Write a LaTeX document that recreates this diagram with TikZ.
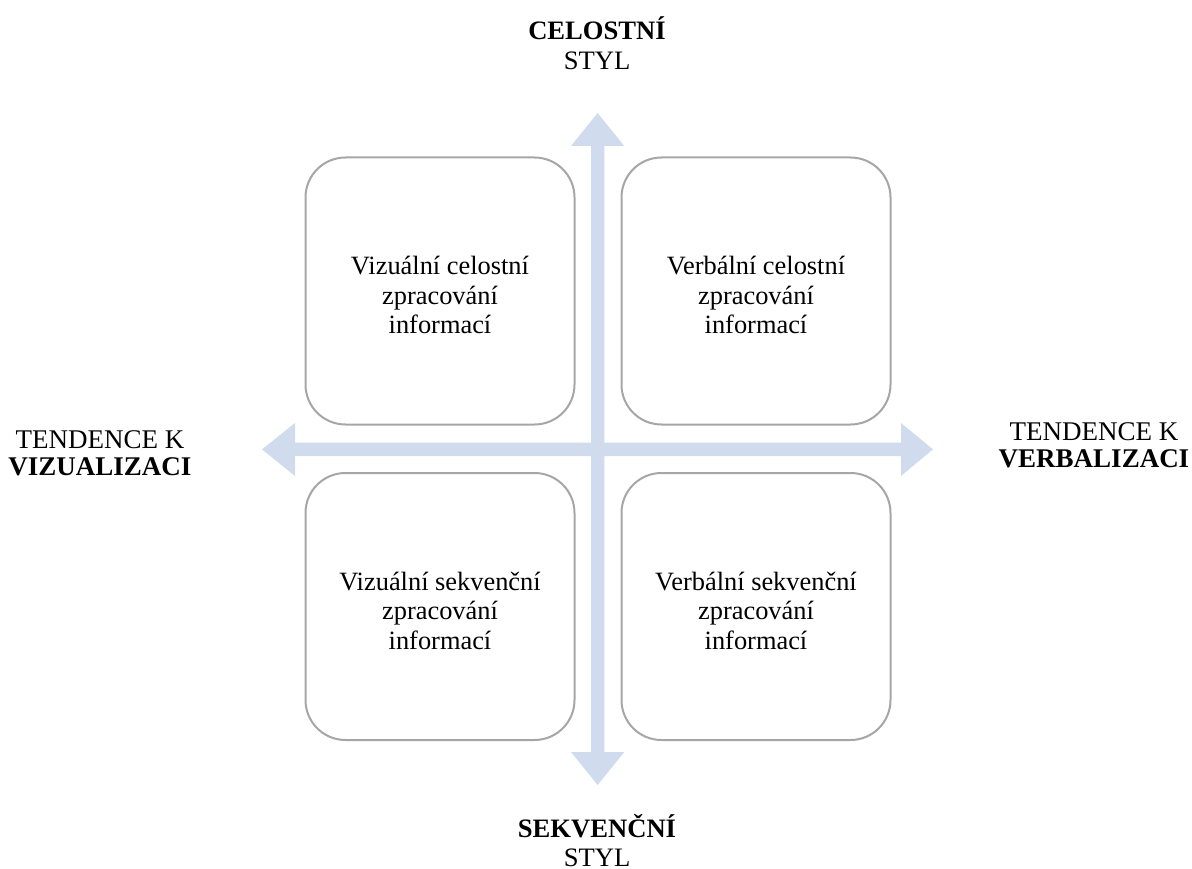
\documentclass[tikz,border=0pt]{standalone}
\usepackage{fontspec}
\setmainfont{Liberation Serif}
\definecolor{arrowblue}{HTML}{D0DCEE}
\definecolor{boxgray}{HTML}{A6A6A6}
\begin{document}
\begin{tikzpicture}[x=1pt,y=-1pt,
  quad/.style={draw=boxgray, line width=2pt, rounded corners=40pt, rectangle,
    minimum width=269pt, minimum height=267pt, inner sep=0pt},
  quadtext/.style={align=center, inner sep=0pt,
    font=\fontsize{26.4}{29.5}\selectfont},
  axislabel/.style={align=center, inner sep=0pt, font=\fontsize{26.6}{29.5}\selectfont},
  sidelabel/.style={align=center, inner sep=0pt, font=\fontsize{27}{27}\selectfont},
  axisfill/.style={fill=arrowblue, draw=none}]
\useasboundingbox (0,0) rectangle (1192,869);
% axes
\fill[axisfill] (597.6,113) -- (624.3,146) -- (604.3,146) -- (604.3,442.7)
  -- (901,442.7) -- (901,423) -- (933,449.4) -- (901,476) -- (901,456.1)
  -- (604.3,456.1) -- (604.3,752) -- (624.3,752) -- (597.6,785) -- (571,752)
  -- (591,752) -- (591,456.1) -- (295,456.1) -- (295,476) -- (262,449.4)
  -- (295,423) -- (295,442.7) -- (591,442.7) -- (591,146) -- (571,146) -- cycle;
% quadrants
\node[quad] (tl) at (440,291) {};
\node[quad] (tr) at (756,291) {};
\node[quad] (bl) at (440,606.5) {};
\node[quad] (br) at (756,606.5) {};
\node[quadtext] (tltext) at ([yshift=-4pt]tl.center) {Vizuální celostní\\zpracování\\informací};
\node[quadtext] (trtext) at ([yshift=-4pt]tr.center) {Verbální celostní\\zpracování\\informací};
\node[quadtext] (bltext) at ([yshift=-4pt]bl.center) {Vizuální sekvenční\\zpracování\\informací};
\node[quadtext] (brtext) at ([yshift=-4pt]br.center) {Verbální sekvenční\\zpracování\\informací};
% axis labels
\node[axislabel] (top) at (597,43) {\textbf{CELOSTNÍ}\\STYL};
\node[axislabel] (bottom) at (597,840.5) {\textbf{SEKVENČNÍ}\\STYL};
\node[sidelabel] (left) at (100,453) {TENDENCE K\\\textbf{VIZUALIZACI}};
\node[sidelabel] (right) at (1094,445) {TENDENCE K\\\textbf{VERBALIZACI}};
\end{tikzpicture}
\end{document}
